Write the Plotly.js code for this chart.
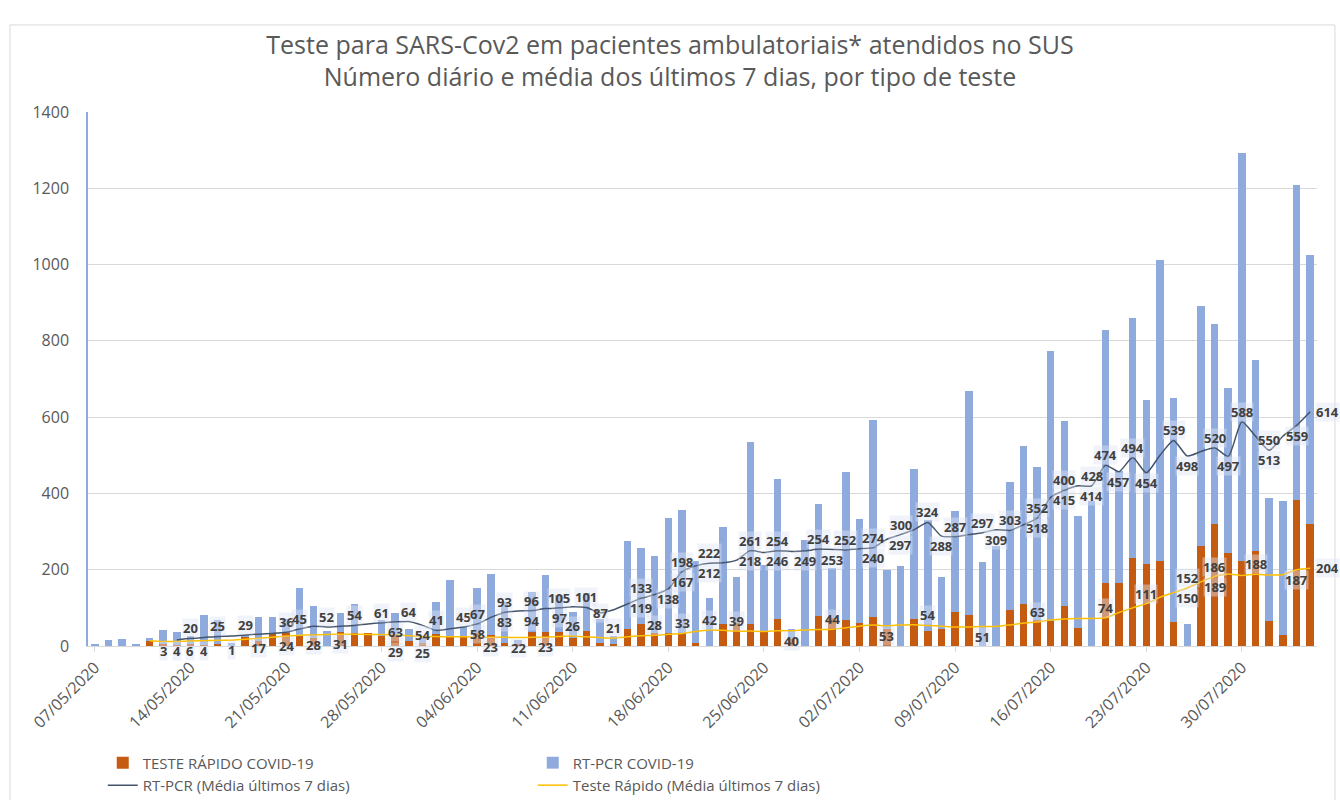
<!DOCTYPE html>
<html>
<head>
<meta charset="utf-8">
<script src="https://cdn.plot.ly/plotly-3.0.1.min.js"></script>
<style>html,body{margin:0;padding:0;background:#fff;}#chart{width:1340px;height:800px;}</style>
</head>
<body>
<div id="chart"></div>
<script>
// ---- data (one entry per day, starting 07/05/2020) ----
const startDate = '2020-05-07';
const rapidDaily = [0,0,0,0,12,4,3,6,3,4,1,26,12,33,35,25,21,0,36,35,33,27,30,12,8,31,26,27,34,28,8,4,38,37,37,21,40,8,5,44,57,35,35,35,9,0,57,60,57,38,72,18,0,79,74,67,61,76,45,0,72,40,44,90,81,0,0,94,111,69,66,104,48,0,164,165,230,215,222,63,0,263,321,245,222,250,66,30,383,320];
const rtpcrDaily = [4,16,19,4,10,38,35,19,77,64,7,2,63,44,37,127,83,40,50,75,0,41,56,33,12,85,148,22,118,160,107,11,104,148,97,68,98,62,20,230,201,201,300,322,214,125,254,121,477,174,366,27,279,292,131,389,273,517,153,210,392,290,136,264,587,221,262,337,414,401,707,485,292,381,664,295,631,429,791,588,57,629,523,432,1070,501,322,351,826,705];
const rtpcrAvg = [null,null,null,null,null,null,16,20,22,25,26,29,31,33,36,45,52,50,52,54,58,61,63,64,54,41,45,50,58,75,88,92,93,98,100,103,101,87,95,110,125,135,150,195,210,217,218,225,250,245,250,248,249,254,253,252,255,258,280,292,305,324,288,287,292,297,305,303,318,335,390,408,420,420,474,457,494,454,500,539,498,510,520,497,588,550,513,550,578,614];
const rapidAvg = [null,null,null,null,14,12,12,13,14,15,15,18,20,23,26,28,29,30,31,31,30,30,29,27,25,25,24,24,23,23,23,22,23,23,25,26,24,22,21,24,27,28,31,33,38,42,41,39,39,38,40,40,42,43,44,48,52,55,53,55,56,54,52,50,50,51,51,55,60,63,68,71,72,72,74,88,100,111,128,140,152,168,182,189,185,188,186,187,200,204];

// data labels printed on the average lines: day index, text as printed,
// side (t=above, b=below, B=further below, m=on, r=right)
const rtLabelDays = [7,9,11,14,15,17,19,21,22,23,24,25,27,28,28,30,30,32,32,34,34,36,37,40,40,42,43,43,45,45,48,48,50,50,52,53,54,55,57,57,59,59,61,62,63,65,66,67,69,69,71,71,73,73,74,75,76,77,79,80,82,83,84,86,86,88,89];
const rtLabelText = ['20','25','29','36','45','52','54','61','63','64','54','41','45','67','58','93','83','96','94','105','97','101','87','133','119','138','198','167','222','212','261','218','254','246','249','254','253','252','274','240','300','297','324','288','287','297','309','303','352','318','400','415','428','414','474','457','494','454','539','498','520','497','588','550','513','559','614'];
const rtLabelSide = ['t','t','t','t','t','t','t','t','b','t','b','t','t','t','b','t','b','t','b','t','b','t','m','t','b','b','t','b','t','b','t','b','t','b','b','t','b','t','t','b','t','b','t','b','t','t','b','t','t','b','t','b','t','b','t','b','t','b','t','b','t','b','t','t','b','b','r'];

const rapidLabelDays = [5,6,7,8,10,12,14,16,18,22,24,29,31,33,35,38,41,43,45,47,51,54,58,61,65,69,74,77,80,80,82,82,85,88,89];
const rapidLabelText = ['3','4','6','4','1','17','24','28','31','29','25','23','22','23','26','21','28','33','42','39','40','44','53','54','51','63','74','111','152','150','186','189','188','187','204'];
const rapidLabelSide = ['b','b','b','b','b','b','b','b','b','B','B','b','b','b','t','t','t','t','t','t','b','t','b','t','b','t','t','t','t','b','t','b','t','b','r'];

const seriesNames = ['TESTE RÁPIDO COVID-19','RT-PCR COVID-19','RT-PCR (Média últimos 7 dias)','Teste Rápido (Média últimos 7 dias)'];

// ---- build ----
const dates = rapidDaily.map((_, i) => {
  const d = new Date(startDate + 'T00:00:00Z');
  d.setUTCDate(d.getUTCDate() + i);
  return d.toISOString().slice(0, 10);
});
const labelFont = {family: 'Open Sans, sans-serif', size: 13, color: '#404040', weight: 'bold'};
const sideShift = {t: [0, 10], b: [0, -10], B: [0, -17], m: [0, 0], r: [17, 0]};

function makeLabels(days, texts, sides, series) {
  return days.map((d, k) => ({
    x: dates[d], y: series[d], xref: 'x', yref: 'y', text: texts[k], showarrow: false,
    xshift: sideShift[sides[k]][0], yshift: sideShift[sides[k]][1],
    font: labelFont, bgcolor: 'rgba(222,229,243,0.45)', borderpad: 0
  }));
}

const traces = [
  {type: 'bar', name: seriesNames[0], x: dates, y: rapidDaily, marker: {color: '#C55A11'}, hoverinfo: 'x+y'},
  {type: 'bar', name: seriesNames[1], x: dates, y: rtpcrDaily, marker: {color: '#8FAADC'}, hoverinfo: 'x+y'},
  {type: 'scatter', mode: 'lines', name: seriesNames[2], x: dates, y: rtpcrAvg, line: {color: '#44546A', width: 1.5, shape: 'spline', smoothing: 0.6}},
  {type: 'scatter', mode: 'lines', name: seriesNames[3], x: dates, y: rapidAvg, line: {color: '#FFC000', width: 1.5, shape: 'spline', smoothing: 0.6}}
];

const layout = {
  width: 1340, height: 800,
  margin: {l: 88, r: 23, t: 112, b: 154, autoexpand: false},
  paper_bgcolor: '#ffffff', plot_bgcolor: '#ffffff',
  font: {family: 'Open Sans, sans-serif', color: '#595959'},
  title: {
    text: 'Teste para SARS-Cov2 em pacientes ambulatoriais* atendidos no SUS<br>Número diário e média dos últimos 7 dias, por tipo de teste',
    font: {size: 25, color: '#595959', family: 'Open Sans, sans-serif'},
    x: 0.5, xref: 'container', xanchor: 'center', y: 0.933, yref: 'container', yanchor: 'middle'
  },
  barmode: 'stack', bargap: 0.45,
  xaxis: {
    type: 'date', range: ['2020-05-06 12:00', '2020-08-04 12:00'],
    tick0: '2020-05-07', dtick: 7 * 86400000, tickformat: '%d/%m/%Y', tickangle: -45,
    tickfont: {size: 16, color: '#595959'}, showgrid: false, showline: true, linecolor: '#D9D9D9',
    ticks: 'outside', ticklen: 5, tickcolor: '#D9D9D9', zeroline: false
  },
  yaxis: {
    range: [0, 1400], dtick: 200, gridcolor: '#D9D9D9', tickfont: {size: 16, color: '#595959'},
    showline: true, linecolor: '#8FAADC', linewidth: 1.5, zeroline: false, ticks: '', ticklabelstandoff: 14
  },
  legend: {
    orientation: 'h', x: 0.012, xanchor: 'left', y: -0.188, yanchor: 'top',
    entrywidth: 385, font: {size: 15, color: '#595959'}, traceorder: 'normal'
  },
  annotations: makeLabels(rtLabelDays, rtLabelText, rtLabelSide, rtpcrAvg)
    .concat(makeLabels(rapidLabelDays, rapidLabelText, rapidLabelSide, rapidAvg)),
  shapes: [{type: 'rect', xref: 'paper', yref: 'paper', x0: -0.0635, x1: 1.0146, y0: -0.29, y1: 1.163,
            line: {color: '#D9D9D9', width: 1}, fillcolor: 'rgba(0,0,0,0)'}],
  showlegend: true
};

Plotly.newPlot('chart', traces, layout, {displayModeBar: false, responsive: false});
</script>
</body>
</html>
